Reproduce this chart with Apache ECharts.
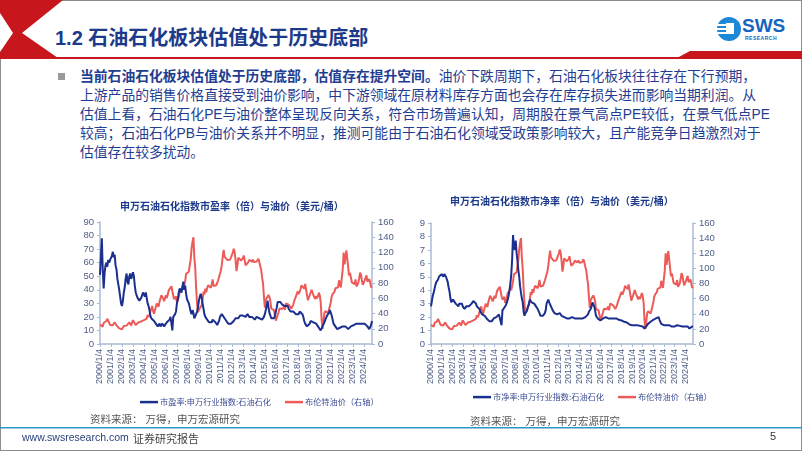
<!DOCTYPE html>
<html>
<head>
<meta charset="utf-8">
<script src="https://cdn.jsdelivr.net/npm/echarts@6/dist/echarts.min.js"></script>
<style>
  html, body { margin: 0; padding: 0; background: #fff; }
  body { width: 802px; height: 451px; position: relative; overflow: hidden;
         font-family: "Liberation Sans", "Noto Sans CJK SC", sans-serif; }
  .abs { position: absolute; }
  #title { left: 55px; top: 22px; font-size: 20px; font-weight: bold; color: #1d3a8a; white-space: nowrap; }
  #body-text { left: 80px; top: 67px; font-size: 13.8px; line-height: 19px; color: #1f3d91; white-space: nowrap; }
  #body-text b { font-weight: bold; }
  #bullet { left: 58px; top: 73px; width: 7px; height: 7px; background: #9a9a9a; }
  #chart-pe { left: 40px; top: 180px; width: 380px; height: 235px; }
  #chart-pb { left: 410px; top: 180px; width: 392px; height: 235px; }
  .src { font-size: 10.5px; color: #555; white-space: nowrap; }
  #foot-url { left: 22px; top: 431px; font-size: 10.5px; color: #2a3f7a; }
  #foot-rep { left: 133px; top: 430px; font-size: 11px; color: #444; }
  #foot-page { left: 770px; top: 430px; font-size: 11px; color: #333; }
  #logo-txt { left: 742px; top: 15px; font-size: 19px; font-weight: bold; color: #1565c0; }
  #logo-sub { left: 745px; top: 35px; font-size: 5px; font-weight: bold; color: #1565c0; letter-spacing: 0.5px; }
</style>
</head>
<body>
<svg class="abs" style="left:0;top:0" width="802" height="451">
  <rect x="0.5" y="0.5" width="801" height="450" fill="none" stroke="#8c8c8c" stroke-width="1"/>
  <polygon points="0,0 63,0 22,33 58,58 0,58" fill="#c8161d"/>
  <polygon points="0,13 13,33 0,52" fill="#ffffff"/>
  <rect x="0" y="57" width="802" height="2" fill="#c8161d"/>
  <polygon points="677,58 690,51 802,51 802,59" fill="#c8161d"/>
  <rect x="0" y="427" width="802" height="1.5" fill="#2a98c8"/>
  <circle cx="729" cy="29" r="12" fill="#1e88d8"/>
  <rect x="717" y="24" width="10" height="2" fill="#fff"/>
  <rect x="717" y="28" width="10" height="2" fill="#fff"/>
  <rect x="717" y="32" width="10" height="2" fill="#fff"/>
  <rect x="726" y="23" width="8" height="11" fill="#fff"/>
</svg>
<div id="logo-txt" class="abs">SWS</div>
<div id="logo-sub" class="abs">RESEARCH</div>
<div id="title" class="abs">1.2 石油石化板块估值处于历史底部</div>
<div id="bullet" class="abs"></div>
<div id="body-text" class="abs">
  <b>当前石油石化板块估值处于历史底部，估值存在提升空间。</b>油价下跌周期下，石油石化板块往往存在下行预期，<br>
  上游产品的销售价格直接受到油价影响，中下游领域在原材料库存方面也会存在库存损失进而影响当期利润。从<br>
  估值上看，石油石化PE与油价整体呈现反向关系，符合市场普遍认知，周期股在景气高点PE较低，在景气低点PE<br>
  较高；石油石化PB与油价关系并不明显，推测可能由于石油石化领域受政策影响较大，且产能竞争日趋激烈对于<br>
  估值存在较多扰动。
</div>
<div id="chart-pe" class="abs"></div>
<div id="chart-pb" class="abs"></div>
<div class="abs src" style="left:90px;top:411px">资料来源：&nbsp;万得，申万宏源研究</div>
<div class="abs src" style="left:470px;top:413px">资料来源：&nbsp;万得，申万宏源研究</div>
<div id="foot-url" class="abs">www.swsresearch.com</div>
<div id="foot-rep" class="abs">证券研究报告</div>
<div id="foot-page" class="abs">5</div>
<script>
  // monthly, 2000/1 .. 2024/10
  const startYear = 2000
  const monthCount = 298

  // 布伦特油价（美元/桶）
  const brent = [
    25.5, 27.8, 27.5, 22.8, 27.6, 29.8, 28.7, 30.2, 33.1, 31.0, 32.5, 25.0,
    25.6, 27.5, 24.5, 25.6, 28.4, 27.7, 24.5, 25.7, 25.6, 20.5, 18.7, 18.7,
    19.4, 20.3, 23.7, 25.7, 25.4, 24.1, 25.7, 26.6, 28.4, 27.5, 24.3, 28.0,
    31.2, 32.8, 30.4, 25.0, 25.8, 27.6, 28.4, 29.8, 27.1, 29.6, 28.8, 29.8,
    31.3, 30.9, 33.8, 33.4, 37.9, 35.2, 38.2, 42.7, 43.2, 49.8, 43.1, 39.7,
    44.3, 45.6, 53.1, 51.9, 49.0, 55.6, 57.9, 63.9, 63.1, 59.5, 56.2, 57.6,
    63.9, 60.2, 62.1, 70.3, 70.0, 68.9, 75.7, 73.2, 62.8, 58.9, 59.1, 62.4,
    54.3, 57.8, 62.1, 67.5, 67.9, 70.6, 75.8, 71.2, 77.0, 82.5, 92.1, 91.5,
    92.0, 94.8, 103.3, 110.4, 125.5, 133.9, 140.0, 113.9, 99.1, 72.8, 53.2, 41.6,
    44.9, 43.1, 46.8, 50.8, 57.9, 68.6, 64.9, 72.5, 67.7, 73.2, 77.0, 74.7,
    76.2, 73.8, 78.8, 84.8, 75.9, 74.8, 75.6, 77.1, 78.2, 83.5, 86.1, 92.0,
    96.5, 103.7, 114.6, 123.3, 114.5, 113.9, 116.7, 110.2, 112.8, 109.6, 110.5, 107.9,
    111.2, 119.7, 125.0, 120.5, 110.5, 95.6, 102.8, 113.2, 113.0, 111.5, 109.5, 109.2,
    112.3, 116.1, 109.5, 103.3, 103.3, 103.3, 107.4, 110.3, 111.2, 109.5, 107.8, 110.6,
    107.4, 108.8, 107.7, 108.1, 109.2, 111.9, 106.9, 101.9, 97.3, 87.3, 79.4, 62.3,
    47.8, 58.1, 55.9, 59.5, 64.3, 61.5, 56.6, 46.5, 47.6, 48.4, 44.3, 38.0,
    30.7, 32.2, 38.2, 41.6, 46.7, 48.3, 44.9, 45.8, 46.6, 49.5, 44.7, 53.3,
    54.6, 54.9, 51.6, 52.3, 50.3, 46.4, 48.5, 51.7, 56.2, 57.5, 62.7, 64.4,
    69.1, 65.3, 66.0, 72.1, 76.9, 74.4, 74.3, 72.5, 78.9, 81.0, 64.8, 57.4,
    59.4, 63.9, 66.1, 71.2, 71.1, 64.2, 63.9, 59.0, 62.8, 59.7, 63.2, 67.3,
    63.6, 55.0, 32.0, 20.0, 29.4, 40.3, 43.2, 44.7, 40.9, 40.2, 42.7, 49.9,
    54.8, 62.3, 65.4, 64.8, 68.5, 73.2, 75.2, 70.8, 74.5, 83.5, 81.1, 74.2,
    86.5, 97.1, 120.0, 104.6, 113.3, 122.7, 111.9, 100.5, 89.8, 93.3, 91.4, 80.9,
    82.5, 82.6, 78.4, 84.6, 75.5, 74.8, 80.1, 86.2, 93.7, 90.6, 82.9, 77.6,
    80.1, 83.5, 85.4, 90.0, 81.8, 82.6, 85.3, 80.9, 74.3, 75.6
  ]

  // 市盈率:申万行业指数:石油石化
  const pe = [
    51, 65, 78, 55, 41, 52, 58, 60, 57, 62, 60, 62,
    63, 65, 68, 64, 66, 58, 55, 48, 44, 40, 35, 30,
    28, 32, 38, 42, 48, 52, 46, 44, 50, 52, 48, 50,
    53, 50, 43, 38, 36, 34, 33, 32, 31, 34, 35, 38,
    37, 35, 38, 34, 30, 28, 25, 21, 19, 18, 18, 17,
    16, 15, 14, 13, 14, 15, 13, 14, 15, 14, 13, 14,
    14, 16, 15, 17, 18, 20, 19, 10, 20, 21, 22, 24,
    30, 33, 38, 41, 40, 38, 42, 46, 40, 43, 37, 33,
    33, 30, 27, 24, 22, 25, 23, 19, 18, 22, 24, 27,
    32, 35, 37, 34, 30, 26, 22, 20, 19, 18, 17, 16,
    16, 17, 16, 18, 18, 17, 16, 15, 14, 15, 17, 20,
    21, 22, 23, 21, 19, 18, 17, 16, 15, 14, 14, 15,
    15, 16, 17, 18, 19, 18, 18, 19, 20, 21, 20, 21,
    21, 22, 21, 20, 21, 22, 21, 20, 20, 19, 20, 19,
    19, 18, 19, 20, 19, 20, 19, 18, 19, 18, 18, 20,
    22, 25, 28, 32, 27, 23, 21, 19, 19, 18, 19, 21,
    24, 27, 31, 32, 30, 31, 30, 29, 30, 29, 28, 28,
    27, 28, 26, 25, 24, 24, 25, 24, 24, 23, 22, 22,
    21, 22, 24, 24, 23, 22, 20, 17, 15, 14, 13, 13,
    14, 15, 17, 17, 16, 16, 15, 16, 15, 14, 13, 13,
    13, 10, 11, 13, 14, 16, 18, 19, 21, 22, 23, 25,
    24, 21, 18, 15, 14, 13, 12, 11, 11, 12, 12, 13,
    13, 13, 12, 13, 13, 12, 12, 11, 12, 12, 13, 13,
    14, 14, 15, 14, 15, 16, 16, 15, 15, 14, 15, 14,
    14, 15, 15, 14, 13, 12, 11, 12, 14, 17
  ]

  // 市净率:申万行业指数:石油石化
  const pb = [
    2.8, 3.2, 3.6, 3.8, 4.1, 4.4, 4.6, 4.7, 4.8, 5.0, 4.9, 5.1,
    5.2, 5.3, 5.0, 5.2, 5.1, 5.0, 4.8, 4.6, 4.2, 3.9, 3.4, 3.1,
    3.2, 3.3, 3.4, 3.2, 3.0, 3.1, 2.9, 2.8, 3.0, 3.1, 3.1, 3.0,
    2.8, 2.7, 2.6, 2.7, 2.8, 2.9, 2.9, 2.8, 2.8, 2.8, 3.0, 3.1,
    3.2, 3.3, 3.2, 3.0, 2.8, 2.8, 2.7, 2.6, 2.4, 2.3, 2.2, 2.2,
    2.1, 2.1, 2.0, 1.9, 1.9, 1.8, 1.7, 1.6, 1.7, 1.7, 1.8, 1.9,
    1.9, 1.9, 2.0, 2.0, 2.1, 2.2, 2.3, 2.2, 1.4, 2.5, 2.6, 2.7,
    2.8, 2.9, 3.1, 3.3, 3.6, 4.0, 4.5, 5.2, 6.3, 8.1, 7.2, 7.0,
    7.7, 6.8, 6.2, 5.5, 5.0, 4.3, 3.8, 3.4, 3.1, 2.4, 2.1, 2.3,
    2.4, 2.5, 2.8, 3.0, 3.3, 3.2, 3.1, 3.2, 3.1, 3.0, 2.9, 2.8,
    2.7, 2.6, 2.5, 2.3, 2.1, 2.0, 2.0, 2.1, 2.2, 2.3, 2.5, 3.0,
    3.1, 3.3, 3.1, 3.0, 2.8, 2.7, 2.5, 2.4, 2.3, 2.3, 2.2, 2.2,
    2.1, 2.2, 2.3, 2.2, 2.1, 2.0, 2.0, 2.0, 2.1, 2.0, 1.9, 2.0,
    2.0, 1.9, 1.9, 2.0, 2.0, 2.0, 1.9, 1.9, 2.0, 1.9, 1.9, 2.0,
    1.9, 1.9, 1.9, 1.8, 1.9, 1.9, 1.9, 2.0, 2.0, 2.1, 2.2, 2.4,
    2.5, 2.6, 2.8, 3.1, 3.0, 2.8, 2.5, 2.1, 2.0, 1.9, 1.9, 1.8,
    1.75, 1.7, 1.8, 1.9, 1.9, 2.0, 2.0, 1.9, 1.9, 1.9, 1.9, 1.9,
    1.9, 1.9, 1.85, 1.9, 1.9, 1.9, 1.9, 1.85, 1.8, 1.8, 1.8, 1.75,
    1.75, 1.7, 1.7, 1.65, 1.65, 1.6, 1.6, 1.5, 1.5, 1.45, 1.4, 1.4,
    1.4, 1.4, 1.45, 1.4, 1.4, 1.4, 1.4, 1.4, 1.4, 1.35, 1.4, 1.35,
    1.3, 1.2, 1.15, 1.2, 1.3, 1.4, 1.5, 1.55, 1.6, 1.65, 1.7, 1.75,
    1.8, 1.85, 1.9, 1.9, 1.9, 2.0, 2.0, 1.8, 1.65, 1.5, 1.45, 1.4,
    1.4, 1.4, 1.35, 1.4, 1.4, 1.4, 1.4, 1.35, 1.3, 1.3, 1.3, 1.3,
    1.3, 1.35, 1.3, 1.4, 1.4, 1.35, 1.35, 1.3, 1.35, 1.3, 1.3, 1.3,
    1.3, 1.25, 1.3, 1.3, 1.2, 1.15, 1.2, 1.25, 1.3, 1.3
  ]

  const dates = []
  for (let i = 0; i < monthCount; i++) {
    dates.push((startYear + Math.floor(i / 12)) + '/' + (i % 12 + 1) + '/4')
  }

  const blue = '#1b2f8e'
  const red = '#ec5b58'
  const axisColor = '#a9bbd4'
  const labelColor = '#4d5d86'
  const font = '"Liberation Sans", "Noto Sans CJK SC", sans-serif'

  function makeOption(titleText, leftName, leftData, leftMax, leftStep, grid) {
    const yBase = {
      type: 'value',
      min: 0,
      splitLine: { show: false },
      axisLine: { show: true, lineStyle: { color: axisColor, width: 1.5 } },
      axisTick: { show: true, length: 3, lineStyle: { color: axisColor } },
      axisLabel: { color: labelColor, fontSize: 9.5, fontFamily: font, margin: 6 }
    }
    return {
      animation: false,
      title: {
        text: titleText,
        left: grid.titleLeft,
        top: grid.titleTop,
        textStyle: { color: '#1d3a8a', fontSize: 10, fontWeight: 'bold', fontFamily: '"Noto Sans CJK SC", sans-serif' }
      },
      legend: {
        top: grid.legendTop,
        left: grid.legendLeft,
        icon: 'rect',
        itemWidth: 18,
        itemHeight: 2.5,
        itemGap: 14,
        textStyle: { color: '#3b4b94', fontSize: 8.2, padding: [0, 0, 0, -3], fontFamily: '"Noto Sans CJK SC", sans-serif' },
        data: [leftName, '布伦特油价（右轴）']
      },
      grid: { left: grid.left, top: grid.top, width: grid.width, height: grid.height },
      xAxis: {
        type: 'category',
        data: dates,
        boundaryGap: false,
        axisLine: { lineStyle: { color: axisColor, width: 1.5 } },
        axisTick: { show: true, length: 3, interval: (i) => i % 12 === 0, lineStyle: { color: axisColor } },
        axisLabel: {
          rotate: 90,
          interval: (i) => i % 12 === 0,
          color: labelColor,
          fontSize: 9,
          fontFamily: font,
          margin: 5
        }
      },
      yAxis: [
        Object.assign({}, yBase, { max: leftMax, interval: leftStep, position: 'left' }),
        Object.assign({}, yBase, { max: 160, interval: 20, position: 'right' })
      ],
      series: [
        {
          name: leftName, type: 'line', data: leftData, yAxisIndex: 0,
          symbol: 'none', lineStyle: { color: blue, width: 2 }, itemStyle: { color: blue }, z: 3
        },
        {
          name: '布伦特油价（右轴）', type: 'line', data: brent, yAxisIndex: 1,
          symbol: 'none', lineStyle: { color: red, width: 2 }, itemStyle: { color: red }, z: 2
        }
      ]
    }
  }

  const chartPe = echarts.init(document.getElementById('chart-pe'))
  chartPe.setOption(makeOption(
    '申万石油石化指数市盈率（倍）与油价（美元/桶）',
    '市盈率:申万行业指数:石油石化', pe, 90, 10,
    { left: 60, top: 42, width: 272, height: 122, titleLeft: 75, titleTop: 16, legendTop: 213, legendLeft: 95 }
  ))

  const chartPb = echarts.init(document.getElementById('chart-pb'))
  chartPb.setOption(makeOption(
    '申万石油石化指数市净率（倍）与油价（美元/桶）',
    '市净率:申万行业指数:石油石化', pb, 9, 1,
    { left: 21, top: 43, width: 262, height: 121, titleLeft: 35, titleTop: 11, legendTop: 208, legendLeft: 58 }
  ))

  window.addEventListener('resize', function () { chartPe.resize(); chartPb.resize() })
</script>
</body>
</html>
